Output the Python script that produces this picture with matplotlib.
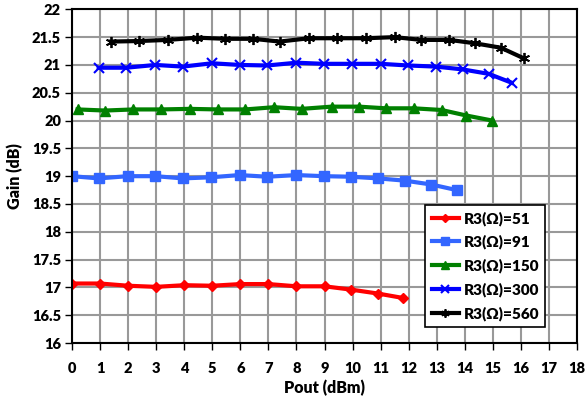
import matplotlib
import numpy as np
from matplotlib import pyplot as plt

matplotlib.use("agg")
plt.rcParams["font.family"] = ["Lato", "DejaVu Sans"]
plt.rcParams["font.weight"] = "heavy"

# R3 = 51 ohm
pout_51 = [0, 1, 2, 3, 4, 5, 6, 7, 8, 9, 9.95, 10.9, 11.8]
gain_51 = [17.07, 17.07, 17.03, 17.01, 17.04, 17.03, 17.06, 17.06, 17.02, 17.02, 16.96, 16.89, 16.81]

# R3 = 91 ohm
pout_91 = [0, 0.95, 1.99, 2.97, 3.95, 4.96, 5.97, 6.96, 8.0, 8.98, 9.94, 10.91, 11.86, 12.81, 13.71]
gain_91 = [19.0, 18.96, 19.0, 19.0, 18.96, 18.98, 19.02, 18.99, 19.02, 19.0, 18.99, 18.96, 18.92, 18.85, 18.75]

# R3 = 150 ohm
pout_150 = [0.2, 1.18, 2.19, 3.18, 4.19, 5.2, 6.18, 7.2, 8.18, 9.25, 10.23, 11.18, 12.18, 13.17, 14.06, 14.98]
gain_150 = [20.2, 20.18, 20.2, 20.2, 20.21, 20.2, 20.2, 20.24, 20.21, 20.25, 20.25, 20.22, 20.22, 20.19, 20.09, 20.0]

# R3 = 300 ohm
pout_300 = [0.95, 1.93, 2.97, 3.95, 4.99, 5.97, 6.95, 8.0, 8.98, 9.99, 11.0, 11.98, 12.97, 13.92, 14.85, 15.67]
gain_300 = [20.95, 20.95, 21.0, 20.97, 21.03, 21.0, 20.99, 21.04, 21.02, 21.02, 21.02, 20.99, 20.97, 20.92, 20.84, 20.68]

# R3 = 560 ohm
pout_560 = [1.39, 2.40, 3.41, 4.46, 5.46, 6.45, 7.40, 8.45, 9.43, 10.48, 11.5, 12.45, 13.45, 14.35, 15.28, 16.1]
gain_560 = [21.42, 21.43, 21.45, 21.49, 21.47, 21.47, 21.42, 21.48, 21.48, 21.48, 21.50, 21.45, 21.45, 21.39, 21.31, 21.12]

fig = plt.figure(figsize=(5.87, 4.05), dpi=100)
ax = fig.add_axes([0.1227, 0.153, 0.8603, 0.824])

ax.plot(pout_51, gain_51, color="#FF0000", lw=3, marker="D", ms=5, label="R3(Ω)=51")
ax.plot(pout_91, gain_91, color="#3366FF", lw=3, marker="s", ms=7, label="R3(Ω)=91")
ax.plot(pout_150, gain_150, color="#008000", lw=3, marker="^", ms=7, label="R3(Ω)=150")
ax.plot(pout_300, gain_300, color="#0000FF", lw=3, marker="x", ms=7, mew=1.5, label="R3(Ω)=300")
ax.plot(pout_560, gain_560, color="#000000", lw=3, marker=(6, 2, 0), ms=8, mew=1.3, label="R3(Ω)=560")

ax.set_xlim(0, 18)
ax.set_ylim(16, 22)
ax.set_xticks(np.arange(0, 19, 1))
ax.set_yticks(np.arange(16, 22.01, 0.5))
ax.set_yticklabels([f"{v:g}" for v in np.arange(16, 22.01, 0.5)])
ax.grid(True, color="#999999", lw=1.5)
ax.set_axisbelow(True)
for s in ax.spines.values():
    s.set_linewidth(1.5)
    s.set_color("black")
ax.tick_params(axis="x", direction="out", length=5, width=1, pad=9, labelsize=10.5)
ax.tick_params(axis="y", direction="out", length=5, width=1, pad=3, labelsize=10.5)
for lbl in ax.get_xticklabels() + ax.get_yticklabels():
    lbl.set_fontweight("heavy")

ax.set_xlabel("Pout (dBm)", fontsize=11.5, fontweight="heavy", labelpad=3)
ax.set_ylabel("Gain (dB)", fontsize=11.5, fontweight="heavy", labelpad=6)

leg = ax.legend(loc="lower right", bbox_to_anchor=(0.937, 0.049), fancybox=False,
                framealpha=1, edgecolor="black", handlelength=1.8, labelspacing=0.6,
                markerscale=0.75, prop={"weight": "heavy", "size": 11},
                borderpad=0.4, borderaxespad=0, handletextpad=0.3)
leg.get_frame().set_linewidth(1.2)

plt.savefig("out.png", dpi=100)
